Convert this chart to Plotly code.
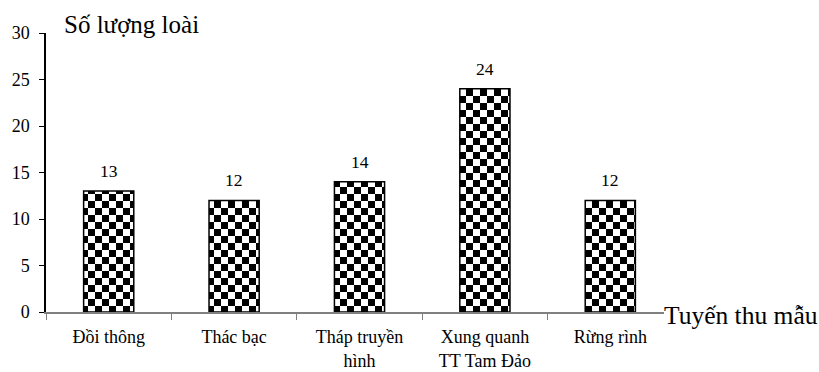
import plotly.graph_objects as go

categories = ["Đồi thông", "Thác bạc", "Tháp truyền<br>hình", "Xung quanh<br>TT Tam Đảo", "Rừng rình"]
values = [13, 12, 14, 24, 12]
y_title = "Số lượng loài"
x_title = "Tuyến thu mẫu"
y_ticks = [0, 5, 10, 15, 20, 25, 30]

FONT = "'Times New Roman', 'Liberation Serif', serif"
W, H = 819, 372
ML, MR, MT, MB = 46, 146, 33, 60
PW = W - ML - MR
PH = H - MT - MB

fig = go.Figure()
fig.add_trace(go.Bar(
    x=categories, y=values,
    width=0.4,
    marker=dict(
        color="white",
        line=dict(color="black", width=1.5),
        pattern=dict(shape=".", fgcolor="black", bgcolor="white", size=14, solidity=0.5),
    ),
    hoverinfo="skip",
))

annotations = []
for c, v in zip(categories, values):
    annotations.append(dict(
        x=c, y=v, xref="x", yref="y", text=str(v), showarrow=False,
        yanchor="middle", yshift=20, font=dict(family=FONT, size=17.5, color="black"),
    ))

annotations.append(dict(
    xref="paper", yref="paper", x=(62 - ML) / PW, y=(MT + PH - 24) / PH,
    xanchor="left", yanchor="middle", text=y_title, showarrow=False,
    font=dict(family=FONT, size=25, color="black"),
))
annotations.append(dict(
    xref="paper", yref="paper", x=(664 - ML) / PW, y=(MT + PH - 315) / PH,
    xanchor="left", yanchor="middle", text=x_title, showarrow=False,
    bgcolor="white", borderpad=0, borderwidth=0,
    font=dict(family=FONT, size=25.5, color="black"),
))

fig.update_layout(
    width=W, height=H,
    margin=dict(l=ML, r=MR, t=MT, b=MB, autoexpand=False),
    paper_bgcolor="white", plot_bgcolor="white",
    showlegend=False,
    font=dict(family=FONT, size=18, color="black"),
    annotations=annotations,
    bargap=0.6,
)
fig.update_xaxes(
    type="category", showline=True, linecolor="#808080", linewidth=1.5,
    ticks="outside", tickson="boundaries", ticklen=6, tickcolor="#808080", tickwidth=1,
    showgrid=False, zeroline=False, ticklabelstandoff=8, automargin=False,
    tickfont=dict(family=FONT, size=18, color="black"),
)
fig.update_yaxes(
    range=[0, 30], tickvals=y_ticks, showline=True, linecolor="black", linewidth=1.5,
    ticks="outside", ticklen=5, tickcolor="black", tickwidth=1,
    showgrid=False, zeroline=False, ticklabelstandoff=6, automargin=False,
    tickfont=dict(family=FONT, size=18, color="black"),
)

post = """
document.body.style.margin = '0';
document.body.style.padding = '0';
var gd = document.getElementById('{plot_id}');
var NS = 'http://www.w3.org/2000/svg';
var pats = gd.querySelectorAll('pattern');
pats.forEach(function(p){
  while (p.firstChild) p.removeChild(p.firstChild);
  p.setAttribute('width', 14); p.setAttribute('height', 14);
  var specs = [[0,0,14,14,'white'],[0,0,7,7,'black'],[7,7,7,7,'black']];
  specs.forEach(function(s){
    var r = document.createElementNS(NS, 'rect');
    r.setAttribute('x', s[0]); r.setAttribute('y', s[1]);
    r.setAttribute('width', s[2]); r.setAttribute('height', s[3]);
    r.setAttribute('fill', s[4]);
    p.appendChild(r);
  });
});
"""
fig.write_html("out.html", post_script=post, config={"displayModeBar": False})
